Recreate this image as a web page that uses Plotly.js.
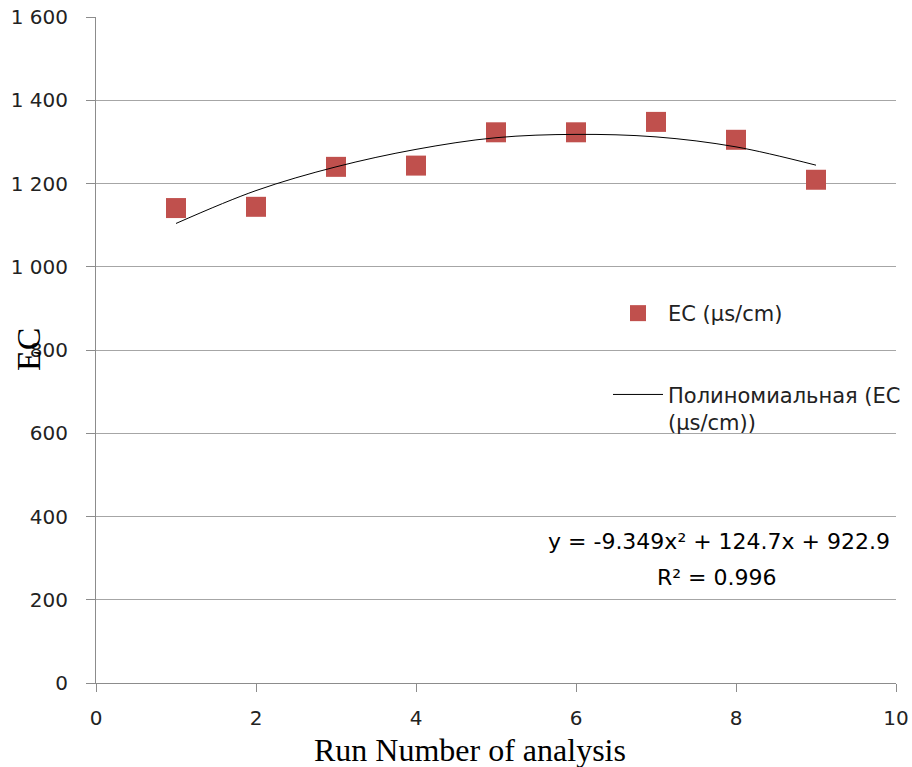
<!DOCTYPE html>
<html>
<head>
<meta charset="utf-8">
<script src="https://cdn.plot.ly/plotly-3.0.1.min.js"></script>
<style>html,body{margin:0;padding:0;background:#fff;}#chart{width:912px;height:767px;}</style>
</head>
<body>
<div id="chart"></div>
<script>
// Data
const runNumbers = [1, 2, 3, 4, 5, 6, 7, 8, 9];
const ecValues = [1141, 1144, 1240, 1243, 1323, 1323, 1348, 1305, 1209];
// Polynomial trend line as drawn
const trendX = [1, 2, 3, 4, 5, 6, 7, 8, 9];
const trendY = [1104, 1183, 1240, 1282, 1310, 1318, 1312, 1288, 1244];
const yTicks = [0, 200, 400, 600, 800, 1000, 1200, 1400, 1600];
const xTicks = [0, 2, 4, 6, 8, 10];
const seriesName = "EC (µs/cm)";
const trendName = "Полиномиальная (EC<br>(µs/cm))";
const equationText = "y = -9.349x² + 124.7x + 922.9";
const r2Text = "R² = 0.996";
const xTitle = "Run Number of analysis";
const yTitle = "EC";

const uiFont = "DejaVu Sans, Open Sans, sans-serif";
const serifFont = "Liberation Serif, Times New Roman, serif";

const traces = [
  {
    x: runNumbers, y: ecValues, type: "scatter", mode: "markers",
    name: seriesName, legendgroup: "a",
    marker: {symbol: "square", size: 20, color: "#C0504D", line: {width: 0}}
  },
  {
    x: trendX, y: trendY, type: "scatter", mode: "lines",
    name: trendName, legendgroup: "b",
    line: {color: "#000000", width: 1, shape: "spline"}
  }
];

const layout = {
  width: 912, height: 767,
  margin: {l: 96, r: 16, t: 17, b: 84, autoexpand: false},
  paper_bgcolor: "#ffffff", plot_bgcolor: "#ffffff",
  separators: ", ",
  showlegend: true,
  legend: {
    x: 0.64, y: 0.5856, xanchor: "left", yanchor: "top",
    bgcolor: "rgba(0,0,0,0)", borderwidth: 0,
    font: {family: uiFont, size: 21, color: "#222"},
    traceorder: "grouped", tracegroupgap: 51, itemwidth: 50, valign: "top"
  },
  xaxis: {
    range: [0, 10], tickvals: xTicks, ticktext: xTicks.map(String),
    showgrid: false, zeroline: false,
    showline: true, linecolor: "#8c8c8c", linewidth: 1,
    ticks: "outside", ticklen: 8, tickcolor: "#8c8c8c",
    ticklabelstandoff: 9,
    tickfont: {family: uiFont, size: 20, color: "#222"}
  },
  yaxis: {
    range: [0, 1600], tickvals: yTicks, tickformat: ",d",
    showgrid: true, gridcolor: "#a6a6a6", gridwidth: 1, zeroline: false,
    showline: true, linecolor: "#8c8c8c", linewidth: 1,
    ticks: "outside", ticklen: 9, tickcolor: "#8c8c8c",
    ticklabelstandoff: 14,
    tickfont: {family: uiFont, size: 20, color: "#222"}
  },
  annotations: [
    {text: equationText, xref: "paper", yref: "paper", x: (719-96)/800, y: (683-541)/666,
     xanchor: "center", yanchor: "middle", showarrow: false,
     font: {family: uiFont, size: 22, color: "#000"}},
    {text: r2Text, xref: "paper", yref: "paper", x: (717-96)/800, y: (683-577)/666,
     xanchor: "center", yanchor: "middle", showarrow: false,
     font: {family: uiFont, size: 22, color: "#000"}},
    {text: xTitle, xref: "paper", yref: "paper", x: (470-96)/800, y: (683-750)/666,
     xanchor: "center", yanchor: "middle", showarrow: false,
     font: {family: serifFont, size: 32, color: "#000"}},
    {text: yTitle, xref: "paper", yref: "paper", x: (28-96)/800, y: (683-350)/666,
     xanchor: "center", yanchor: "middle", showarrow: false, textangle: -90,
     font: {family: serifFont, size: 34, color: "#000"}}
  ]
};

Plotly.newPlot("chart", traces, layout, {displayModeBar: false, staticPlot: true});
</script>
</body>
</html>
